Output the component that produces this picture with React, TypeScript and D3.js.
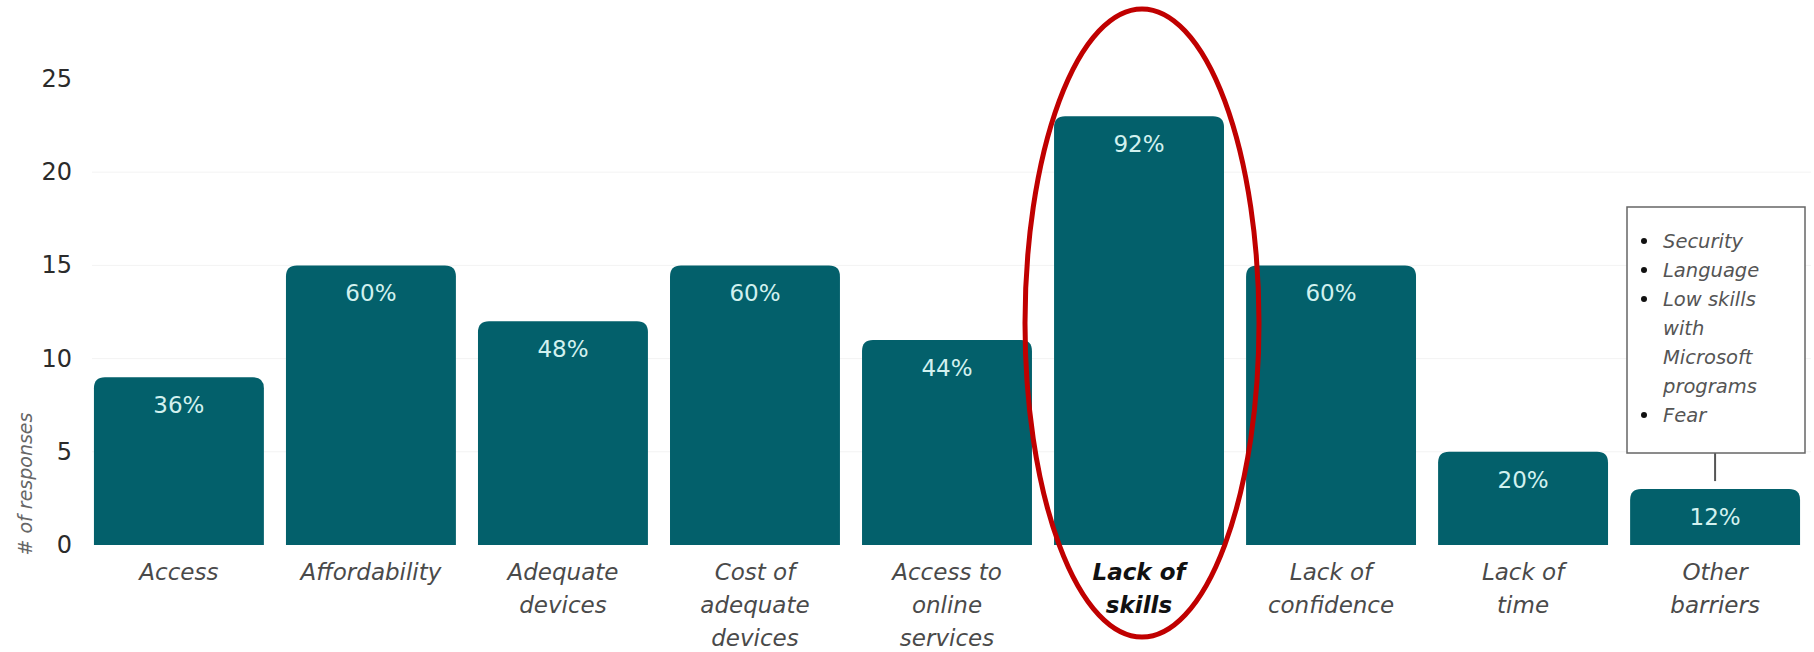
import React from "react";
import * as d3 from "d3";

const categories = [
  ["Access"],
  ["Affordability"],
  ["Adequate", "devices"],
  ["Cost of", "adequate", "devices"],
  ["Access to", "online", "services"],
  ["Lack of", "skills"],
  ["Lack of", "confidence"],
  ["Lack of", "time"],
  ["Other", "barriers"],
];
const responses = [9, 15, 12, 15, 11, 23, 15, 5, 3];
const percentLabels = ["36%", "60%", "48%", "60%", "44%", "92%", "60%", "20%", "12%"];
const yTicks = [0, 5, 10, 15, 20, 25];
const gridTicks = [5, 10, 15, 20];
const highlightIndex = 5;
const noteItems = [
  { bullet: true, text: "Security" },
  { bullet: true, text: "Language" },
  { bullet: true, text: "Low skills" },
  { bullet: false, text: "with" },
  { bullet: false, text: "Microsoft" },
  { bullet: false, text: "programs" },
  { bullet: true, text: "Fear" },
];

const W = 1814;
const H = 652;
const FONT = "'DejaVu Sans', 'Open Sans', sans-serif";
const BAR = "#03606b";

function topRounded(x: number, y: number, w: number, h: number, r: number) {
  const rr = Math.min(r, h, w / 2);
  return `M${x},${y + h}V${y + rr}Q${x},${y} ${x + rr},${y}H${x + w - rr}Q${x + w},${y} ${x + w},${y + rr}V${y + h}Z`;
}

export default function App() {
  const x = d3
    .scaleBand<number>()
    .domain(d3.range(categories.length))
    .range([83, 1811])
    .paddingInner(0.115)
    .paddingOuter(0.057);
  const y = d3.scaleLinear().domain([0, 25]).range([545, 79]);

  const otherIdx = categories.length - 1;
  const noteCx = x(otherIdx)! + x.bandwidth() / 2;
  const noteX = 1627;
  const noteY = 207;
  const noteW = 178;
  const noteH = 246;

  return (
    <svg width={W} height={H} style={{ position: "absolute", left: 0, top: 0, background: "#fff" }}>
      {gridTicks.map((t) => (
        <line key={"g" + t} x1={92} x2={1811} y1={y(t)} y2={y(t)} stroke="#f3f3f3" strokeWidth={1} />
      ))}
      {yTicks.map((t) => (
        <text
          key={"t" + t}
          x={72}
          y={y(t)}
          textAnchor="end"
          dominantBaseline="central"
          fontFamily={FONT}
          fontSize={24}
          fill="#2b2b2b"
        >
          {t}
        </text>
      ))}
      <text
        transform={`translate(25,484) rotate(-90)`}
        textAnchor="middle"
        dominantBaseline="central"
        fontFamily={FONT}
        fontStyle="italic"
        fontSize={19}
        fill="#666"
      >
        # of responses
      </text>
      {responses.map((v, i) => {
        const bx = x(i)!;
        const bw = x.bandwidth();
        const by = y(v);
        const bh = y(0) - y(v);
        return (
          <g key={"b" + i}>
            <path d={topRounded(bx, by, bw, bh, 11)} fill={BAR} />
            <text
              x={bx + bw / 2}
              y={by + 28}
              textAnchor="middle"
              dominantBaseline="central"
              fontFamily={FONT}
              fontSize={23}
              fill="#d2f1ef"
            >
              {percentLabels[i]}
            </text>
            {categories[i].map((line, j) => (
              <text
                key={j}
                x={bx + bw / 2}
                y={572 + j * 33}
                textAnchor="middle"
                dominantBaseline="central"
                fontFamily={FONT}
                fontStyle="italic"
                fontWeight={i === highlightIndex ? 700 : 400}
                fontSize={23}
                fill={i === highlightIndex ? "#111" : "#4a4a4a"}
              >
                {line}
              </text>
            ))}
          </g>
        );
      })}
      <line x1={noteCx} x2={noteCx} y1={noteY + noteH} y2={y(responses[otherIdx]) - 8} stroke="#555" strokeWidth={2} />
      <rect x={noteX} y={noteY} width={noteW} height={noteH} fill="#fff" stroke="#666" strokeWidth={1.5} />
      {noteItems.map((it, k) => (
        <g key={"n" + k}>
          {it.bullet && <circle cx={1644} cy={241 + k * 29} r={3} fill="#111" />}
          <text
            x={1663}
            y={241 + k * 29}
            dominantBaseline="central"
            fontFamily={FONT}
            fontStyle="italic"
            fontSize={19.5}
            fill="#555"
          >
            {it.text}
          </text>
        </g>
      ))}
      <ellipse cx={1142} cy={323} rx={117} ry={314} fill="none" stroke="#c00000" strokeWidth={5} />
    </svg>
  );
}
